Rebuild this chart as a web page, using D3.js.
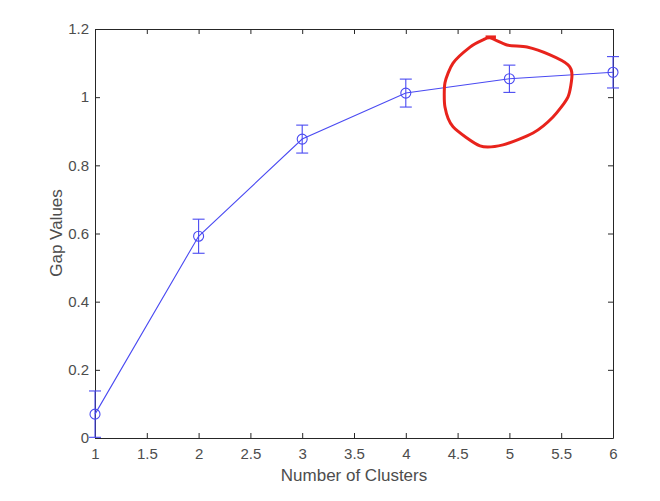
<!DOCTYPE html>
<html><head><meta charset="utf-8">
<script src="https://cdn.jsdelivr.net/npm/d3@7"></script>
<style>body{margin:0;background:#fff}svg{display:block}</style>
</head><body>
<script>
const clusters = [1, 2, 3, 4, 5, 6];
const gapValues = [0.070, 0.592, 0.877, 1.012, 1.054, 1.073];
const gapErrors = [0.068, 0.050, 0.041, 0.041, 0.040, 0.046];
const xTicks = [1, 1.5, 2, 2.5, 3, 3.5, 4, 4.5, 5, 5.5, 6];
const yTicks = [0, 0.2, 0.4, 0.6, 0.8, 1, 1.2];
// hand-drawn red annotation loop, in data coordinates
const annotX = [4.813, 4.977, 5.170, 5.392, 5.566, 5.604, 5.566, 5.421, 5.228, 4.938, 4.716, 4.456, 4.378, 4.378, 4.456, 4.620, 4.745];
const annotY = [1.174, 1.153, 1.147, 1.124, 1.095, 1.065, 1.001, 0.942, 0.895, 0.860, 0.857, 0.913, 0.971, 1.042, 1.100, 1.147, 1.168];

const W = 660, H = 501;
const L = 95, R = 613, T = 29, B = 438;
const svg = d3.select("body").append("svg").attr("width", W).attr("height", H);
const x = d3.scaleLinear().domain([1, 6]).range([L, R]);
const y = d3.scaleLinear().domain([0, 1.2]).range([B, T]);
const font = "'Liberation Sans', Arial, Helvetica, sans-serif";
const axisCol = "#262626", textCol = "#4d4d4d";

function styleAxis(g) {
  g.select(".domain").attr("stroke", axisCol).attr("stroke-width", 1);
  g.selectAll(".tick line").attr("stroke", axisCol);
  g.selectAll(".tick text").attr("fill", textCol).style("font-family", font).style("font-size", "15px");
}
const fmt = d => String(d);
svg.append("g").attr("transform", `translate(0,${B})`)
  .call(d3.axisBottom(x).tickValues(xTicks).tickFormat(fmt).tickSizeInner(-5).tickSizeOuter(0).tickPadding(10))
  .call(styleAxis);
svg.append("g").attr("transform", `translate(0,${T})`)
  .call(d3.axisTop(x).tickValues(xTicks).tickFormat("").tickSizeInner(-5).tickSizeOuter(0))
  .call(styleAxis);
svg.append("g").attr("transform", `translate(${L},0)`)
  .call(d3.axisLeft(y).tickValues(yTicks).tickFormat(fmt).tickSizeInner(-5).tickSizeOuter(0).tickPadding(6))
  .call(styleAxis);
svg.append("g").attr("transform", `translate(${R},0)`)
  .call(d3.axisRight(y).tickValues(yTicks).tickFormat("").tickSizeInner(-5).tickSizeOuter(0))
  .call(styleAxis);

const data = clusters.map((c, i) => ({x: c, y: gapValues[i], e: gapErrors[i]}));
const blue = "#4a4af2";
svg.append("path").datum(data)
  .attr("fill", "none").attr("stroke", blue).attr("stroke-width", 1.1)
  .attr("d", d3.line().x(d => x(d.x)).y(d => y(d.y)));

const eb = svg.append("g").attr("stroke", blue).attr("stroke-width", 1.1).attr("fill", "none");
data.forEach(d => {
  const cx = x(d.x);
  const y0 = y(Math.max(0, d.y - d.e)), y1 = y(d.y + d.e);
  eb.append("line").attr("x1", cx).attr("x2", cx).attr("y1", y0).attr("y2", y1);
  eb.append("line").attr("x1", cx - 6).attr("x2", cx + 6).attr("y1", y1).attr("y2", y1);
  eb.append("line").attr("x1", cx - 6).attr("x2", cx + 6).attr("y1", y0).attr("y2", y0);
  eb.append("circle").attr("cx", cx).attr("cy", y(d.y)).attr("r", 5);
});

svg.append("text").attr("x", 354).attr("y", 481).attr("text-anchor", "middle")
  .attr("fill", textCol).style("font-family", font).style("font-size", "17px").text("Number of Clusters");
svg.append("text").attr("transform", `translate(62,233) rotate(-90)`).attr("text-anchor", "middle")
  .attr("fill", textCol).style("font-family", font).style("font-size", "17px").text("Gap Values");

const annot = annotX.map((v, i) => [x(v), y(annotY[i])]);
svg.append("path").datum(annot)
  .attr("fill", "none").attr("stroke", "#e8231c").attr("stroke-width", 3).attr("stroke-linejoin", "round")
  .attr("d", d3.line().curve(d3.curveCardinalClosed.tension(0.3)));
svg.append("line").attr("x1", x(4.77)).attr("x2", x(4.87)).attr("y1", y(1.176)).attr("y2", y(1.176))
  .attr("stroke", "#e8231c").attr("stroke-width", 3.5);
</script>
</body></html>
